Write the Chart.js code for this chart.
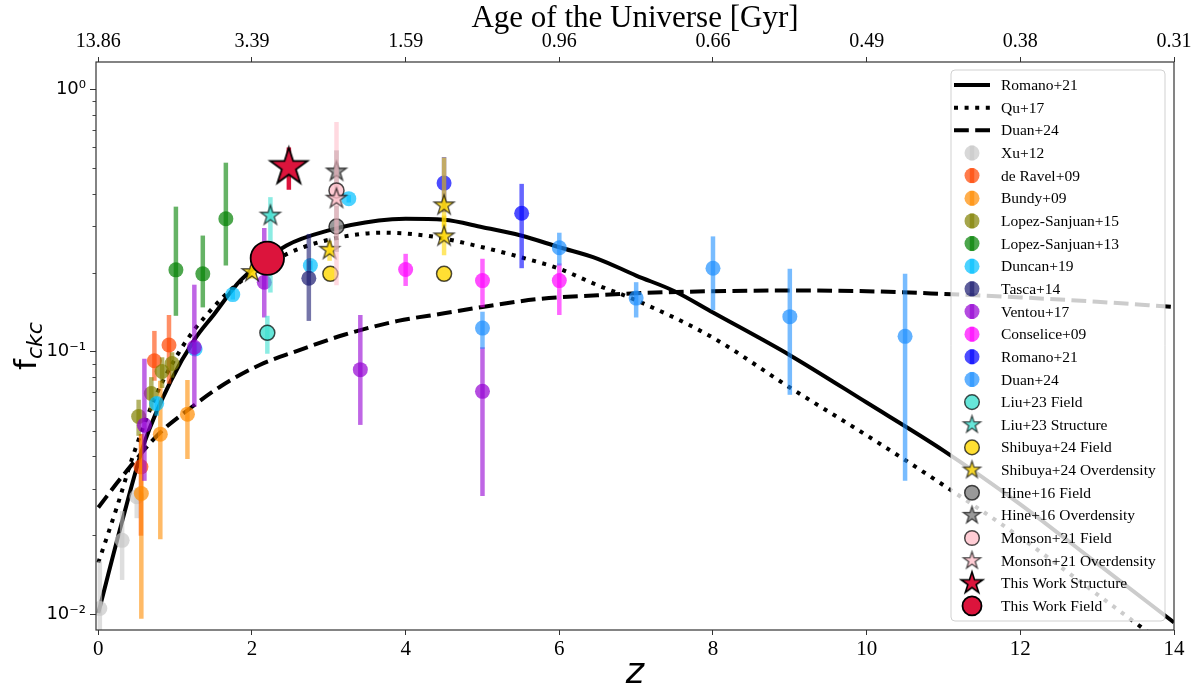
<!DOCTYPE html>
<html><head><meta charset="utf-8">
<script src="https://cdn.jsdelivr.net/npm/chart.js@4.4.1/dist/chart.umd.min.js"></script>
<style>html,body{margin:0;padding:0;background:#fff;}canvas{display:block;}</style>
</head><body>
<canvas id="c" width="1199" height="693"></canvas>
<script>
// ---------- axis ticks ----------
const zTicks = [0, 2, 4, 6, 8, 10, 12, 14];
const ageLabels = ['13.86', '3.39', '1.59', '0.96', '0.66', '0.49', '0.38', '0.31'];
const yMajorTicks = [0.01, 0.1, 1];
const yMajorLabels = ['10\u207B\u00B2', '10\u207B\u00B9', '10\u2070'];
const yMinorTicks = [0.02,0.03,0.04,0.05,0.06,0.07,0.08,0.09,0.2,0.3,0.4,0.5,0.6,0.7,0.8,0.9];

// ---------- model curves ----------
const romanoModel_z = [0, 0.3, 0.6, 0.95, 1.25, 1.5, 1.85, 2.45, 3.0, 3.65, 4.0, 4.5, 5.0, 5.5, 6.0, 6.5, 7.0, 7.5, 8.0, 9.0, 10.0, 11.0, 12.0, 13.0, 14.0];
const romanoModel_f = [0.0101, 0.022, 0.045, 0.078, 0.111, 0.138, 0.187, 0.254, 0.29, 0.316, 0.321, 0.318, 0.298, 0.277, 0.25, 0.226, 0.195, 0.17, 0.141, 0.097, 0.064, 0.042, 0.0262, 0.0156, 0.0093];
const quModel_z = [0, 0.25, 0.45, 0.75, 1.1, 1.4, 1.8, 2.5, 3.15, 3.7, 4.3, 5.0, 5.5, 6.0, 6.5, 7.0, 8.0, 9.0, 10.0, 11.0, 12.0, 13.0, 14.0];
const quModel_f = [0.0157, 0.026, 0.040, 0.068, 0.105, 0.137, 0.180, 0.239, 0.273, 0.284, 0.276, 0.250, 0.229, 0.207, 0.179, 0.157, 0.113, 0.073, 0.048, 0.031, 0.0196, 0.0119, 0.0072];
const duanModel_z = [0, 0.33, 0.8, 1.2, 1.6, 2.1, 2.6, 3.2, 3.9, 4.5, 5.0, 5.75, 6.5, 7.0, 8.0, 9.0, 10.0, 11.0, 12.0, 13.0, 14.0];
const duanModel_f = [0.0255, 0.034, 0.049, 0.061, 0.074, 0.089, 0.101, 0.116, 0.131, 0.140, 0.148, 0.159, 0.164, 0.167, 0.170, 0.171, 0.170, 0.166, 0.161, 0.155, 0.148];

// ---------- observations ----------
const xu12_z = [0.02, 0.31, 0.5];
const xu12_f = [0.0105, 0.0191, 0.028];
const xu12_lo = [0.007, 0.0135, 0.0232];
const xu12_hi = [0.0159, 0.0247, 0.0303];

const deRavel09_z = [0.555, 0.73, 0.92];
const deRavel09_f = [0.0364, 0.0924, 0.106];
const deRavel09_lo = [0.0199, 0.0775, 0.0755];
const deRavel09_hi = [0.0486, 0.120, 0.138];

const bundy09_z = [0.56, 0.807, 1.16];
const bundy09_f = [0.0288, 0.0485, 0.0578];
const bundy09_lo = [0.0096, 0.0193, 0.039];
const bundy09_hi = [0.0486, 0.0775, 0.078];

const ls15_z = [0.525, 0.69, 0.83, 0.96];
const ls15_f = [0.0566, 0.0693, 0.084, 0.0902];
const ls15_lo = [0.0478, 0.0595, 0.0727, 0.0796];
const ls15_hi = [0.0656, 0.080, 0.0952, 0.0995];

const ls13_z = [1.01, 1.36, 1.66];
const ls13_f = [0.205, 0.198, 0.321];
const ls13_lo = [0.137, 0.1475, 0.213];
const ls13_hi = [0.357, 0.277, 0.525];

const duncan19_z = [0.76, 1.26, 1.75, 2.76, 3.26];
const duncan19_f = [0.0635, 0.1024, 0.165, 0.213, 0.383];
const duncan19_lo = [0.057, 0.097, 0.158, 0.205, 0.37];
const duncan19_hi = [0.067, 0.108, 0.172, 0.222, 0.395];

const tasca14_z = [2.74];
const tasca14_f = [0.1905];
const tasca14_lo = [0.131];
const tasca14_hi = [0.281];

const ventou17_z = [0.6, 1.25, 2.16, 3.41, 5.0];
const ventou17_f = [0.0525, 0.104, 0.184, 0.0854, 0.0706];
const ventou17_lo = [0.0322, 0.0617, 0.135, 0.0526, 0.0282];
const ventou17_hi = [0.094, 0.180, 0.296, 0.138, 0.104];

const conselice09_z = [4.0, 5.0, 6.0];
const conselice09_f = [0.2056, 0.1866, 0.1866];
const conselice09_lo = [0.178, 0.1476, 0.138];
const conselice09_hi = [0.236, 0.226, 0.217];

const romano21_z = [4.5, 5.51];
const romano21_f = [0.439, 0.337];
const romano21_lo = [0.34, 0.208];
const romano21_hi = [0.552, 0.436];

const duan24_z = [5.0, 6.0, 7.0, 8.0, 9.0, 10.5];
const duan24_f = [0.123, 0.249, 0.16, 0.208, 0.136, 0.1144];
const duan24_lo = [0.1025, 0.213, 0.135, 0.144, 0.0685, 0.0322];
const duan24_hi = [0.142, 0.284, 0.184, 0.275, 0.207, 0.198];

const liuField_z = [2.2];
const liuField_f = [0.118];
const liuField_lo = [0.0982];
const liuField_hi = [0.137];

const liuStruct_z = [2.24];
const liuStruct_f = [0.33];
const liuStruct_lo = [0.168];
const liuStruct_hi = [0.388];

const shibuyaField_z = [3.02, 4.5];
const shibuyaField_f = [0.198, 0.198];

const shibuyaOver_z = [2.0, 3.01, 4.5, 4.5];
const shibuyaOver_f = [0.201, 0.2445, 0.361, 0.275];
const shibuyaOver_lo = [0.19, 0.222, 0.30, 0.233];
const shibuyaOver_hi = [0.212, 0.265, 0.55, 0.33];

const hineField_z = [3.1];
const hineField_f = [0.30];
const hineField_lo = [0.24];
const hineField_hi = [0.36];

const hineOver_z = [3.1];
const hineOver_f = [0.486];
const hineOver_lo = [0.40];
const hineOver_hi = [0.585];

const monsonField_z = [3.1];
const monsonField_f = [0.4116];
const monsonField_lo = [0.179];
const monsonField_hi = [0.75];

const monsonOver_z = [3.1];
const monsonOver_f = [0.383];

const thisStruct_z = [2.48];
const thisStruct_f = [0.505];
const thisStruct_lo = [0.414];
const thisStruct_hi = [0.60];

const thisField_z = [2.2];
const thisField_f = [0.227];
const thisField_lo = [0.205];
const thisField_hi = [0.25];

// ---------- helpers ----------
function pts(zs, fs) { return zs.map((z, i) => ({ x: z, y: fs[i] })); }
function rgba(hex, a) {
  const n = parseInt(hex.slice(1), 16);
  return 'rgba(' + ((n >> 16) & 255) + ',' + ((n >> 8) & 255) + ',' + (n & 255) + ',' + a + ')';
}
function starPath(g, cx, cy, R) {
  const r = R * 0.381966;
  g.beginPath();
  for (let i = 0; i < 10; i++) {
    const ang = -Math.PI / 2 + i * Math.PI / 5;
    const rad = (i % 2) ? r : R;
    const px = cx + rad * Math.cos(ang), py = cy + rad * Math.sin(ang);
    if (i === 0) g.moveTo(px, py); else g.lineTo(px, py);
  }
  g.closePath();
}
function starCanvas(R, fill, stroke, lw) {
  const s = Math.ceil(2 * (R + lw + 2));
  const c = document.createElement('canvas');
  c.width = s; c.height = s;
  const g = c.getContext('2d');
  starPath(g, s / 2, s / 2, R);
  g.fillStyle = fill; g.fill();
  g.lineJoin = 'miter'; g.strokeStyle = stroke; g.lineWidth = lw; g.stroke();
  return c;
}

let ord = 100;
function curve(label, zs, fs, dash) {
  return { label, kind: 'line', data: pts(zs, fs), showLine: true, borderColor: '#000', borderWidth: 4,
    borderDash: dash, borderCapStyle: 'butt', pointRadius: 0, cubicInterpolationMode: 'monotone', order: ord-- };
}
function plain(label, col, zs, fs, lo, hi) {
  return { label, kind: 'circle', data: pts(zs, fs), pointStyle: 'circle', pointRadius: 7.5,
    backgroundColor: rgba(col, 0.7), borderWidth: 0, errLo: lo, errHi: hi, errColor: rgba(col, 0.6),
    legendR: 7.5, order: ord-- };
}
function edged(label, col, zs, fs, lo, hi) {
  return { label, kind: 'circle', data: pts(zs, fs), pointStyle: 'circle', pointRadius: 7.5,
    backgroundColor: rgba(col, 0.8), borderColor: 'rgba(0,0,0,0.7)', borderWidth: 1.5,
    errLo: lo, errHi: hi, errColor: rgba(col, 0.6), legendR: 7.3, order: ord-- };
}
function star(label, col, zs, fs, lo, hi) {
  return { label, kind: 'star', data: pts(zs, fs), pointStyle: starCanvas(10.5, rgba(col, 0.8), 'rgba(0,0,0,0.7)', 1.3),
    pointRadius: 10, legendImg: starCanvas(9, rgba(col, 0.8), 'rgba(0,0,0,0.7)', 1.3),
    errLo: lo, errHi: hi, errColor: rgba(col, 0.6), order: ord-- };
}

const datasets = [
  curve('Romano+21', romanoModel_z, romanoModel_f, []),
  curve('Qu+17', quModel_z, quModel_f, [4, 6.6]),
  curve('Duan+24', duanModel_z, duanModel_f, [14.8, 6.4]),
  plain('Xu+12', '#c8c8c8', xu12_z, xu12_f, xu12_lo, xu12_hi),
  plain('de Ravel+09', '#ff4500', deRavel09_z, deRavel09_f, deRavel09_lo, deRavel09_hi),
  plain('Bundy+09', '#ff8c00', bundy09_z, bundy09_f, bundy09_lo, bundy09_hi),
  plain('Lopez-Sanjuan+15', '#808000', ls15_z, ls15_f, ls15_lo, ls15_hi),
  plain('Lopez-Sanjuan+13', '#008000', ls13_z, ls13_f, ls13_lo, ls13_hi),
  plain('Duncan+19', '#00bfff', duncan19_z, duncan19_f, duncan19_lo, duncan19_hi),
  plain('Tasca+14', '#191970', tasca14_z, tasca14_f, tasca14_lo, tasca14_hi),
  plain('Ventou+17', '#9400d3', ventou17_z, ventou17_f, ventou17_lo, ventou17_hi),
  plain('Conselice+09', '#ff00ff', conselice09_z, conselice09_f, conselice09_lo, conselice09_hi),
  plain('Romano+21', '#0000ff', romano21_z, romano21_f, romano21_lo, romano21_hi),
  plain('Duan+24', '#1e90ff', duan24_z, duan24_f, duan24_lo, duan24_hi),
  edged('Liu+23 Field', '#40e0d0', liuField_z, liuField_f, liuField_lo, liuField_hi),
  star('Liu+23 Structure', '#40e0d0', liuStruct_z, liuStruct_f, liuStruct_lo, liuStruct_hi),
  edged('Shibuya+24 Field', '#ffd700', shibuyaField_z, shibuyaField_f, null, null),
  star('Shibuya+24 Overdensity', '#ffd700', shibuyaOver_z, shibuyaOver_f, shibuyaOver_lo, shibuyaOver_hi),
  edged('Hine+16 Field', '#808080', hineField_z, hineField_f, hineField_lo, hineField_hi),
  star('Hine+16 Overdensity', '#808080', hineOver_z, hineOver_f, hineOver_lo, hineOver_hi),
  edged('Monson+21 Field', '#ffc0cb', monsonField_z, monsonField_f, monsonField_lo, monsonField_hi),
  star('Monson+21 Overdensity', '#ffc0cb', monsonOver_z, monsonOver_f, null, null),
  { label: 'This Work Structure', kind: 'star', data: pts(thisStruct_z, thisStruct_f),
    pointStyle: starCanvas(19.5, '#dc143c', '#000', 1.8), pointRadius: 19,
    legendImg: starCanvas(11.4, '#dc143c', '#000', 1.6),
    errLo: thisStruct_lo, errHi: thisStruct_hi, errColor: '#dc143c', order: 1 },
  { label: 'This Work Field', kind: 'circle', data: pts(thisField_z, thisField_f), pointStyle: 'circle',
    pointRadius: 16.7, backgroundColor: '#dc143c', borderColor: '#000', borderWidth: 1.8, legendR: 9.5,
    errLo: thisField_lo, errHi: thisField_hi, errColor: '#dc143c', order: 0 }
];

const errPlugin = {
  id: 'errbars',
  beforeDatasetDraw(chart, args) {
    const ds = chart.data.datasets[args.index];
    if (!ds.errLo) return;
    const ctx = chart.ctx, xs = chart.scales.x, ys = chart.scales.y, a = chart.chartArea;
    ctx.save();
    ctx.beginPath(); ctx.rect(a.left, a.top, a.right - a.left, a.bottom - a.top); ctx.clip();
    ctx.strokeStyle = ds.errColor; ctx.lineWidth = 4.5; ctx.lineCap = 'butt';
    ds.data.forEach((p, i) => {
      if (ds.errLo[i] == null) return;
      const px = xs.getPixelForValue(p.x);
      ctx.beginPath();
      ctx.moveTo(px, ys.getPixelForValue(ds.errLo[i]));
      ctx.lineTo(px, ys.getPixelForValue(ds.errHi[i]));
      ctx.stroke();
    });
    ctx.restore();
  }
};

const framePlugin = {
  id: 'frame',
  afterDraw(chart) {
    const ctx = chart.ctx, a = chart.chartArea, ys = chart.scales.y;
    ctx.save();
    ctx.strokeStyle = '#333'; ctx.lineWidth = 1.2;
    ctx.strokeRect(a.left, a.top, a.right - a.left, a.bottom - a.top);
    // minor y ticks
    ctx.lineWidth = 0.9;
    yMinorTicks.forEach(v => {
      const py = Math.round(ys.getPixelForValue(v)) + 0.5;
      ctx.beginPath(); ctx.moveTo(a.left, py); ctx.lineTo(a.left - 3.5, py); ctx.stroke();
    });
    const cx = (a.left + a.right) / 2;
    ctx.fillStyle = '#000'; ctx.textAlign = 'center'; ctx.textBaseline = 'middle';
    ctx.font = '31px "Liberation Serif"';
    ctx.fillText('Age of the Universe [Gyr]', cx, 19);
    ctx.font = 'italic 35px "DejaVu Sans"';
    ctx.fillText('z', cx, 674);
    // y title f_ckc
    ctx.translate(26, (a.top + a.bottom) / 2);
    ctx.rotate(-Math.PI / 2);
    ctx.textAlign = 'left'; ctx.textBaseline = 'alphabetic';
    ctx.font = '31px "DejaVu Sans"';
    const wf = ctx.measureText('f').width;
    ctx.font = 'italic 22px "DejaVu Sans"';
    const wc = ctx.measureText('ckc').width;
    const x0 = -(wf + wc) / 2;
    ctx.font = '31px "DejaVu Sans"';
    ctx.fillText('f', x0, 10);
    ctx.font = 'italic 22px "DejaVu Sans"';
    ctx.fillText('ckc', x0 + wf, 16);
    ctx.restore();
  }
};

const legendPlugin = {
  id: 'boxLegend',
  afterDraw(chart) {
    const ctx = chart.ctx;
    const bx = 951, by = 70, bw = 214, bh = 551, r = 4;
    ctx.save();
    ctx.beginPath();
    ctx.moveTo(bx + r, by); ctx.lineTo(bx + bw - r, by); ctx.arcTo(bx + bw, by, bx + bw, by + r, r);
    ctx.lineTo(bx + bw, by + bh - r); ctx.arcTo(bx + bw, by + bh, bx + bw - r, by + bh, r);
    ctx.lineTo(bx + r, by + bh); ctx.arcTo(bx, by + bh, bx, by + bh - r, r);
    ctx.lineTo(bx, by + r); ctx.arcTo(bx, by, bx + r, by, r);
    ctx.closePath();
    ctx.fillStyle = 'rgba(255,255,255,0.8)'; ctx.fill();
    ctx.strokeStyle = 'rgba(204,204,204,0.9)'; ctx.lineWidth = 1; ctx.stroke();
    chart.data.datasets.forEach((ds, i) => {
      const cy = 85 + i * 22.65;
      const mx = 972;
      if (ds.kind === 'line') {
        ctx.strokeStyle = '#000'; ctx.lineWidth = 4; ctx.lineCap = 'butt';
        ctx.setLineDash(ds.borderDash);
        ctx.beginPath(); ctx.moveTo(954, cy); ctx.lineTo(990, cy); ctx.stroke();
        ctx.setLineDash([]);
      } else if (ds.kind === 'circle') {
        if (ds.errLo && ds.borderWidth === 0) {
          ctx.strokeStyle = ds.errColor; ctx.lineWidth = 4.5;
          ctx.beginPath(); ctx.moveTo(mx, cy - ds.legendR); ctx.lineTo(mx, cy + ds.legendR); ctx.stroke();
        }
        ctx.beginPath(); ctx.arc(mx, cy, ds.legendR, 0, Math.PI * 2);
        ctx.fillStyle = ds.backgroundColor; ctx.fill();
        if (ds.borderWidth > 0) { ctx.strokeStyle = ds.borderColor; ctx.lineWidth = ds.borderWidth; ctx.stroke(); }
      } else {
        const img = ds.legendImg;
        ctx.drawImage(img, mx - img.width / 2, cy - img.height / 2);
      }
      ctx.fillStyle = '#000'; ctx.font = '15.5px "Liberation Serif"';
      ctx.textAlign = 'left'; ctx.textBaseline = 'middle';
      ctx.fillText(ds.label, 1001, cy + 1);
    });
    ctx.restore();
  }
};

new Chart(document.getElementById('c'), {
  type: 'scatter',
  data: { datasets },
  options: {
    responsive: false, animation: false, events: [], devicePixelRatio: 1,
    layout: { padding: { left: 0, right: 25, top: 0, bottom: 0 } },
    plugins: { legend: { display: false }, tooltip: { enabled: false } },
    scales: {
      x: {
        type: 'linear', position: 'bottom', min: -0.03, max: 14,
        afterFit: s => { s.height = 63; },
        afterBuildTicks: s => { s.ticks = zTicks.map(v => ({ value: v })); },
        ticks: { autoSkip: false, maxRotation: 0, color: '#000', padding: 2,
          font: { family: 'Liberation Serif', size: 21 }, callback: v => String(v) },
        grid: { drawOnChartArea: false, drawTicks: true, tickLength: 5, tickColor: '#333', tickWidth: 1 },
        border: { display: false }
      },
      x2: {
        type: 'linear', axis: 'x', position: 'top', min: -0.03, max: 14,
        afterFit: s => { s.height = 62; },
        afterBuildTicks: s => { s.ticks = zTicks.map(v => ({ value: v })); },
        ticks: { autoSkip: false, maxRotation: 0, color: '#000', padding: 3,
          font: { family: 'Liberation Serif', size: 20 },
          callback: (v, i) => ageLabels[i] },
        grid: { drawOnChartArea: false, drawTicks: true, tickLength: 5, tickColor: '#333', tickWidth: 1 },
        border: { display: false }
      },
      y: {
        type: 'logarithmic', position: 'left', min: 0.0087, max: 1.27,
        afterFit: s => { s.width = 96; },
        afterBuildTicks: s => { s.ticks = yMajorTicks.map(v => ({ value: v, major: true })); },
        ticks: { autoSkip: false, color: '#000', padding: 4,
          font: { family: 'DejaVu Sans', size: 18 },
          callback: (v) => { const k = yMajorTicks.findIndex(m => Math.abs(Math.log10(v) - Math.log10(m)) < 1e-6); return k >= 0 ? yMajorLabels[k] : ''; } },
        grid: { drawOnChartArea: false, drawTicks: true, tickLength: 6, tickColor: '#333', tickWidth: 1 },
        border: { display: false }
      }
    }
  },
  plugins: [errPlugin, framePlugin, legendPlugin]
});
</script>
</body></html>
